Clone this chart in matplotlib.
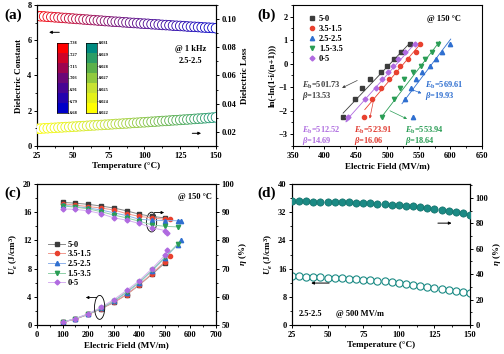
import numpy as np
import matplotlib
matplotlib.use('Agg')
import matplotlib.pyplot as plt
from matplotlib.colors import LinearSegmentedColormap, Normalize
from matplotlib.patches import Ellipse, Rectangle
from matplotlib.ticker import MultipleLocator, AutoMinorLocator

plt.rcParams['font.family'] = ['Liberation Serif', 'DejaVu Serif']
plt.rcParams['font.weight'] = 'bold'
plt.rcParams['axes.labelweight'] = 'bold'
plt.rcParams['mathtext.fontset'] = 'custom'
plt.rcParams['mathtext.rm'] = 'Liberation Serif:bold'
plt.rcParams['mathtext.it'] = 'Liberation Serif:italic:bold'
plt.rcParams['mathtext.bf'] = 'Liberation Serif:bold'
plt.rcParams['axes.linewidth'] = 0.8

# ---------------- data ----------------
# (a) dielectric constant / loss vs temperature, 2.5-2.5 sample @ 1 kHz
temp_a = [25, 27.5, 30, 32.5, 35, 37.5, 40, 42.5, 45, 47.5, 50, 52.5, 55, 57.5, 60,
          62.5, 65, 67.5, 70, 72.5, 75, 77.5, 80, 82.5, 85, 87.5, 90, 92.5, 95, 97.5,
          100, 102.5, 105, 107.5, 110, 112.5, 115, 117.5, 120, 122.5, 125, 127.5, 130,
          132.5, 135, 137.5, 140, 142.5, 145, 147.5, 150]
eps_a = [7.38, 7.36, 7.35, 7.33, 7.32, 7.30, 7.29, 7.27, 7.26, 7.24, 7.23, 7.21, 7.20,
         7.18, 7.17, 7.15, 7.14, 7.12, 7.11, 7.09, 7.08, 7.06, 7.05, 7.04, 7.02, 7.01,
         6.99, 6.98, 6.97, 6.95, 6.94, 6.93, 6.91, 6.90, 6.89, 6.87, 6.86, 6.85, 6.83,
         6.82, 6.81, 6.80, 6.78, 6.77, 6.76, 6.75, 6.73, 6.72, 6.71, 6.70, 6.68]
loss_a = [0.0222, 0.0223, 0.0225, 0.0226, 0.0228, 0.0229, 0.0231, 0.0232, 0.0234, 0.0235,
          0.0237, 0.0238, 0.0240, 0.0241, 0.0243, 0.0245, 0.0246, 0.0248, 0.0249, 0.0251,
          0.0252, 0.0254, 0.0256, 0.0257, 0.0259, 0.0260, 0.0262, 0.0264, 0.0265, 0.0267,
          0.0268, 0.0270, 0.0272, 0.0273, 0.0275, 0.0277, 0.0278, 0.0280, 0.0282, 0.0283,
          0.0285, 0.0287, 0.0288, 0.0290, 0.0292, 0.0294, 0.0295, 0.0297, 0.0299, 0.0301,
          0.0303]
eps_levels = ['7.38', '7.27', '7.15', '7.03', '6.91', '6.79', '6.68']
loss_levels = ['0.031', '0.029', '0.028', '0.027', '0.025', '0.024', '0.022']

# (b) Weibull plots @ 150 C
samples = ['5-0', '3.5-1.5', '2.5-2.5', '1.5-3.5', '0-5']
weib_y = [-2.25, -1.50, -1.03, -0.67, -0.37, -0.09, 0.19, 0.48, 0.83]
weib_E = {
    '5-0':     [430, 449, 459, 473, 490, 499, 511, 521, 535],
    '3.5-1.5': [462, 475, 490, 503, 513, 520, 532, 546, 551],
    '2.5-2.5': [540, 528, 537, 546, 555, 568, 577, 586, 600],
    '1.5-3.5': [492, 510, 520, 527, 540, 553, 560, 570, 580],
    '0-5':     [438, 464, 481, 491, 501, 508, 517, 528, 543],
}
Eb = {'5-0': 501.73, '3.5-1.5': 523.91, '2.5-2.5': 569.61, '1.5-3.5': 553.94, '0-5': 512.52}
beta = {'5-0': 13.53, '3.5-1.5': 16.06, '2.5-2.5': 19.93, '1.5-3.5': 18.64, '0-5': 14.69}
fit_yrange = {'5-0': (-2.1, 0.88), '3.5-1.5': (-1.95, 0.88), '2.5-2.5': (-1.7, 1.05),
              '1.5-3.5': (-2.3, 0.95), '0-5': (-2.35, 0.88)}

# (c) Ue and efficiency vs field @ 150 C
field_c = {
    '5-0':     [100, 150, 200, 250, 300, 350, 400, 450, 500],
    '3.5-1.5': [100, 150, 200, 250, 300, 350, 400, 450, 500, 520],
    '2.5-2.5': [100, 150, 200, 250, 300, 350, 400, 450, 500, 550, 565],
    '1.5-3.5': [100, 150, 200, 250, 300, 350, 400, 450, 500, 550],
    '0-5':     [100, 150, 200, 250, 300, 350, 400, 450, 500, 510],
}
ue_c = {
    '5-0':     [0.4, 0.85, 1.5, 2.3, 3.2, 4.3, 5.7, 7.2, 8.8],
    '3.5-1.5': [0.4, 0.85, 1.5, 2.3, 3.2, 4.3, 5.7, 7.3, 9.0, 9.8],
    '2.5-2.5': [0.4, 0.9, 1.55, 2.35, 3.35, 4.6, 6.0, 7.7, 9.5, 11.4, 12.0],
    '1.5-3.5': [0.4, 0.9, 1.55, 2.4, 3.4, 4.7, 6.1, 7.8, 9.6, 11.5],
    '0-5':     [0.4, 0.9, 1.6, 2.5, 3.6, 4.9, 6.3, 8.0, 9.9, 10.7],
}
eta_c = {
    '5-0':     [93.5, 93.2, 92.8, 92.2, 91.5, 90.5, 89.3, 88.5, 88.0],
    '3.5-1.5': [93.0, 92.5, 92.0, 91.5, 90.8, 89.5, 88.5, 88.0, 87.5, 87.5],
    '2.5-2.5': [92.5, 92.0, 91.5, 90.8, 89.8, 88.8, 87.5, 87.2, 87.0, 87.0, 87.0],
    '1.5-3.5': [92.2, 91.8, 91.2, 90.2, 89.0, 88.0, 86.8, 85.5, 85.0, 84.8],
    '0-5':     [91.2, 91.0, 90.5, 89.5, 88.0, 87.2, 86.0, 84.5, 83.5, 82.5],
}

# (d) Ue and efficiency vs temperature, 2.5-2.5 @ 500 MV/m
temp_d = [25, 30, 35, 40, 45, 50, 55, 60, 65, 70, 75, 80, 85, 90, 95, 100,
          105, 110, 115, 120, 125, 130, 135, 140, 145, 150]
ue_d = [13.9, 13.8, 13.7, 13.6, 13.5, 13.4, 13.3, 13.2, 13.1, 13.0, 12.9, 12.7, 12.6,
        12.4, 12.2, 12.0, 11.7, 11.4, 11.1, 10.8, 10.5, 10.2, 9.9, 9.6, 9.3, 9.0]
eta_d = [97.5, 97.4, 97.3, 97.2, 97.1, 97.0, 96.8, 96.7, 96.5, 96.3, 96.1, 95.8, 95.5,
         95.1, 94.7, 94.3, 93.8, 93.3, 92.7, 92.1, 91.4, 90.6, 89.8, 88.9, 87.9, 86.9]

colors = {'5-0': '#3c3c3c', '3.5-1.5': '#e8412f', '2.5-2.5': '#2f6fd0',
          '1.5-3.5': '#2a9d55', '0-5': '#b06ae0'}
light = {'5-0': '#8a8a8a', '3.5-1.5': '#f09a90', '2.5-2.5': '#8fb2ea',
         '1.5-3.5': '#8fd0a8', '0-5': '#d6b0f0'}
markers = {'5-0': 's', '3.5-1.5': 'o', '2.5-2.5': '^', '1.5-3.5': 'v', '0-5': 'D'}
msize = {'5-0': 2.8, '3.5-1.5': 3.0, '2.5-2.5': 3.1, '1.5-3.5': 3.1, '0-5': 2.5}


def style(ax, fs=6):
    ax.tick_params(which='major', direction='out', length=2.5, width=0.7, labelsize=fs, pad=1.5)
    ax.tick_params(which='minor', direction='out', length=1.4, width=0.6)


fig = plt.figure(figsize=(5.04, 3.54), dpi=100)

# ---------------- (a) ----------------
ax = fig.add_axes([0.0734, 0.5876, 0.3552, 0.3983])
axr = ax.twinx()
cm_eps = LinearSegmentedColormap.from_list('eps', ['#0000c8', '#6a0878', '#ff0000'])
cm_loss = LinearSegmentedColormap.from_list('loss', ['#ffff00', '#c8e232', '#5cb04a', '#008a80'])
n_eps = Normalize(6.68, 7.38)
n_loss = Normalize(0.022, 0.031)
ax.scatter(temp_a, eps_a, s=48, facecolors='white', edgecolors=cm_eps(n_eps(np.array(eps_a))),
           linewidths=0.6, zorder=3)
axr.scatter(temp_a, loss_a, s=48, facecolors='white', edgecolors=cm_loss(n_loss(np.array(loss_a))),
            linewidths=0.6, zorder=3)
ax.set_xlim(25, 150)
ax.set_ylim(0, 8)
axr.set_ylim(0.01, 0.11)
ax.xaxis.set_major_locator(MultipleLocator(25))
ax.yaxis.set_major_locator(MultipleLocator(2))
axr.yaxis.set_major_locator(MultipleLocator(0.02))
for a in (ax, axr):
    a.xaxis.set_minor_locator(AutoMinorLocator(2))
    a.yaxis.set_minor_locator(AutoMinorLocator(2))
    style(a)
axr.set_yticklabels(['%.2f' % v for v in axr.get_yticks()])
ax.set_xlabel('Temperature (°C)', fontsize=6.5, labelpad=2)
ax.set_ylabel('Dielectric Constant', fontsize=6.5, labelpad=3)
axr.set_ylabel('Dielectric Loss', fontsize=6.5, labelpad=3)
ax.text(132, 5.5, '@ 1 kHz', fontsize=6, ha='center', va='center')
ax.text(132, 4.85, '2.5-2.5', fontsize=6, ha='center', va='center')
ax.annotate('', xy=(31.5, 6.45), xytext=(42.5, 6.45),
            arrowprops=dict(arrowstyle='-|>', lw=0.7, color='black', mutation_scale=4))
ax.annotate('', xy=(141.5, 0.72), xytext=(131.5, 0.72),
            arrowprops=dict(arrowstyle='-|>', lw=0.7, color='black', mutation_scale=4))

# discrete color scales
for left, cm, labels in ((0.113, cm_eps, eps_levels), (0.1706, cm_loss, loss_levels)):
    cax = fig.add_axes([left, 0.681, 0.0218, 0.198])
    cols = cm(np.linspace(1, 0, 7))
    for k in range(7):
        cax.add_patch(Rectangle((0, 6 - k), 1, 1, color=cols[k], lw=0))
    cax.set_xlim(0, 1)
    cax.set_ylim(0, 7)
    cax.set_xticks([])
    cax.yaxis.tick_right()
    cax.set_yticks(np.linspace(7, 0, 7))
    cax.set_yticklabels(labels)
    cax.tick_params(axis='y', length=0.8, width=0.4, labelsize=3.2, pad=0.8)
    for sp in cax.spines.values():
        sp.set_linewidth(0.5)

fig.text(0.008, 0.958, '(a)', fontsize=11, ha='left', va='center')

# ---------------- (b) ----------------
bx = fig.add_axes([0.5813, 0.5876, 0.375, 0.3983])
for s in samples:
    bx.plot(weib_E[s], weib_y, linestyle='none', marker=markers[s], ms=msize[s],
            color=colors[s], label=s)
    y0, y1 = fit_yrange[s]
    bx.plot([Eb[s] * np.exp(y0 / beta[s]), Eb[s] * np.exp(y1 / beta[s])], [y0, y1],
            color=colors[s], lw=0.6)
bx.set_xlim(350, 650)
bx.set_ylim(-3.5, 2.5)
bx.xaxis.set_major_locator(MultipleLocator(50))
bx.yaxis.set_major_locator(MultipleLocator(1))
bx.xaxis.set_minor_locator(AutoMinorLocator(2))
bx.yaxis.set_minor_locator(AutoMinorLocator(2))
style(bx)
bx.set_xlabel('Electric Field (MV/m)', fontsize=6.5, labelpad=2)
bx.set_ylabel('ln(-ln(1-i/(n+1)))', fontsize=6.5, labelpad=2)
bx.legend(loc='upper left', bbox_to_anchor=(0.05, 0.97), fontsize=6, frameon=False,
          handletextpad=0.3, labelspacing=0.25, handlelength=1.0, borderpad=0.2)
bx.text(589, 1.9, '@ 150 °C', fontsize=6, ha='center', va='center')

ann = [('5-0', 365, -0.92, (456, -0.66), (424, -1.08), '#404040'),
       ('0-5', 365, -2.85, (441, -2.2), (431, -2.6), '#b070e0'),
       ('3.5-1.5', 447, -2.85, (479, -1.4), (471, -2.45), '#e03a30'),
       ('1.5-3.5', 528, -2.85, (500, -1.95), (535, -2.4), '#2a9d55'),
       ('2.5-2.5', 560, -0.92, (536, -1.07), (558, -1.3), '#2f6fd0')]
for s, tx, ty, p0, p1, c in ann:
    bx.text(tx, ty, r'$E_{\rm b}$=%.2f' % Eb[s], color=c, fontsize=6, ha='left', va='center')
    bx.text(tx, ty - 0.45, r'$\beta$=%.2f' % beta[s], color=c, fontsize=6, ha='left', va='center')
    bx.annotate('', xy=p1, xytext=p0,
                arrowprops=dict(arrowstyle='-|>', lw=0.5, color=c, mutation_scale=4))
fig.text(0.51, 0.958, '(b)', fontsize=11, ha='left', va='center')

# ---------------- (c) ----------------
cx = fig.add_axes([0.0734, 0.0819, 0.3552, 0.3983])
cxr = cx.twinx()
for s in samples:
    cx.plot(field_c[s], ue_c[s], color=light[s], lw=0.7, marker=markers[s], ms=msize[s],
            mfc=colors[s], mec=colors[s], label=s)
    cxr.plot(field_c[s], eta_c[s], color=light[s], lw=0.7, marker=markers[s], ms=msize[s],
             mfc=colors[s], mec=colors[s])
cx.set_xlim(0, 700)
cx.set_ylim(0, 20)
cxr.set_ylim(50, 100)
cx.xaxis.set_major_locator(MultipleLocator(100))
cx.yaxis.set_major_locator(MultipleLocator(4))
cxr.yaxis.set_major_locator(MultipleLocator(10))
for a in (cx, cxr):
    a.xaxis.set_minor_locator(AutoMinorLocator(2))
    a.yaxis.set_minor_locator(AutoMinorLocator(2))
    style(a)
cx.set_xlabel('Electric Field (MV/m)', fontsize=6.5, labelpad=2)
cx.set_ylabel(r'$U_e$ (J/cm$^3$)', fontsize=6.5, labelpad=2)
cxr.set_ylabel(r'$\eta$ (%)', fontsize=6.5, labelpad=2)
cx.legend(loc='upper left', bbox_to_anchor=(0.03, 0.64), fontsize=6, frameon=False,
          handletextpad=0.3, labelspacing=0.2, handlelength=2.0, borderpad=0.2)
cx.text(617, 18.1, '@ 150 °C', fontsize=6, ha='center', va='center')
cx.add_patch(Ellipse((448, 14.6), 40, 2.8, fill=False, lw=0.6, color='black', zorder=5))
cx.annotate('', xy=(508, 15.95), xytext=(448, 15.95),
            arrowprops=dict(arrowstyle='-|>', lw=0.6, color='black', mutation_scale=4))
cx.add_patch(Ellipse((245, 2.5), 40, 3.4, fill=False, lw=0.6, color='black', zorder=5))
cx.annotate('', xy=(180, 3.9), xytext=(245, 3.9),
            arrowprops=dict(arrowstyle='-|>', lw=0.6, color='black', mutation_scale=4))
fig.text(0.008, 0.455, '(c)', fontsize=11, ha='left', va='center')

# ---------------- (d) ----------------
dx = fig.add_axes([0.5794, 0.0819, 0.3532, 0.3983])
dxr = dx.twinx()
teal = '#1b8a84'
dx.plot(temp_d, ue_d, 'o', mfc='white', mec=teal, ms=5.2, mew=0.8, zorder=3)
dxr.plot(temp_d, eta_d, 'o', mfc=teal, mec='#0f6e68', ms=5.2, mew=0.5, zorder=3)
dx.set_xlim(25, 150)
dx.set_ylim(0, 40)
dxr.set_ylim(0, 111)
dx.xaxis.set_major_locator(MultipleLocator(25))
dx.yaxis.set_major_locator(MultipleLocator(8))
dxr.yaxis.set_major_locator(MultipleLocator(20))
for a in (dx, dxr):
    a.xaxis.set_minor_locator(AutoMinorLocator(2))
    a.yaxis.set_minor_locator(AutoMinorLocator(2))
    style(a)
dx.set_xlabel('Temperature (°C)', fontsize=6.5, labelpad=2)
dx.set_ylabel(r'$U_e$ (J/cm$^3$)', fontsize=6.5, labelpad=2)
dxr.set_ylabel(r'$\eta$ (%)', fontsize=6.5, labelpad=2)
dx.text(30, 3.1, '2.5-2.5', fontsize=6, ha='left', va='center')
dx.text(56, 3.1, '@ 500 MV/m', fontsize=6, ha='left', va='center')
dx.annotate('', xy=(139, 28.9), xytext=(125.5, 28.9),
            arrowprops=dict(arrowstyle='-|>', lw=0.7, color='black', mutation_scale=4))
dx.annotate('', xy=(36.5, 11.9), xytext=(53, 11.9),
            arrowprops=dict(arrowstyle='-|>', lw=0.7, color='black', mutation_scale=4))
fig.text(0.51, 0.455, '(d)', fontsize=11, ha='left', va='center')

fig.savefig('out.png', dpi=100)
